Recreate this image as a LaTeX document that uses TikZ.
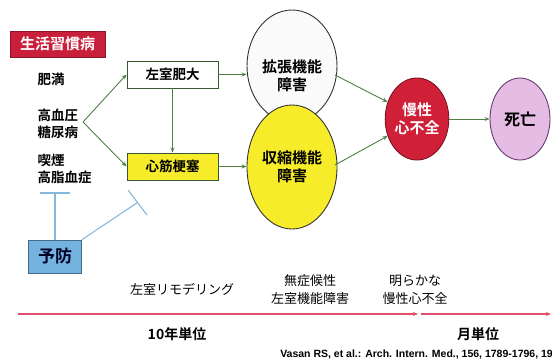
\documentclass[tikz,border=0pt]{standalone}
\usepackage{fontspec}
\setmainfont{Liberation Sans}
\newfontfamily\jp{Noto Sans CJK JP}[BoldFont={Noto Sans CJK JP Bold}]
\usetikzlibrary{arrows.meta,shapes.geometric}
\definecolor{gline}{HTML}{4F7F45}
\definecolor{redbox}{HTML}{C8203A}
\definecolor{yel}{HTML}{F6EC2A}
\definecolor{pur}{HTML}{E4BCE4}
\definecolor{purb}{HTML}{6A3A70}
\definecolor{blu}{HTML}{74B2E0}
\definecolor{blul}{HTML}{86B8DC}
\definecolor{tline}{HTML}{E0506A}
\definecolor{heart}{HTML}{D02038}
\tikzset{
  conn/.style={gline, line width=0.9pt, -{Stealth[length=5pt,width=4pt]}},
  rectbox/.style={draw=gline!70!black, line width=0.9pt, minimum width=91pt, minimum height=27pt, font=\jp\bfseries\fontsize{13.5}{16}\selectfont},
  oval/.style={ellipse, draw=black!80, line width=0.9pt, align=center, font=\jp\bfseries\fontsize{15}{18}\selectfont, inner sep=0pt},
  ovtext/.style={font=\jp\bfseries\fontsize{15}{18}\selectfont, align=center},
  lbl/.style={font=\jp\bfseries\fontsize{13.5}{17}\selectfont, align=left, anchor=west},
  btm/.style={font=\jp\fontsize{13}{18}\selectfont, align=center},
  prev/.style={blul, line width=1.1pt},
  tl/.style={tline, line width=1.3pt, -{Stealth[length=5pt,width=4pt]}}
}
\begin{document}
\begin{tikzpicture}[x=1pt,y=-1pt]
\useasboundingbox (0,0) rectangle (552,362);
% header
\node[fill=redbox, draw=redbox!70!black, minimum width=95pt, minimum height=26pt, text=white, font=\jp\bfseries\fontsize{15}{17}\selectfont, inner sep=0pt] (lsd) at (57.5,44) {生活習慣病};
\node[lbl] (himan) at (34,79) {肥満};
\node[lbl] (kou) at (34,124) {高血圧\\糖尿病};
\node[lbl] (kitsu) at (34,169) {喫煙\\高脂血症};
\coordinate (fork) at (83,122);
% boxes
\node[rectbox, fill=white] (lvh) at (172.5,74.5) {左室肥大};
\node[rectbox, fill=yel] (mi) at (172.5,166.5) {心筋梗塞};
% ellipses
\node[oval, fill=white!96!gray, minimum width=90pt, minimum height=112pt] (dia) at (292,66) {};
\node[oval, fill=yel, minimum width=90pt, minimum height=124pt] (sys) at (292,167) {};
\node[ovtext] (diat) at (292,76) {拡張機能\\障害};
\node[ovtext] (syst) at (292,167) {収縮機能\\障害};
\node[oval, fill=heart, draw=heart!60!black, minimum width=60pt, minimum height=82pt, text=white] (chf) at (417,119) {慢性\\心不全};
\node[oval, fill=pur, draw=purb, minimum width=60pt, minimum height=82pt, font=\jp\bfseries\fontsize{16}{18}\selectfont] (death) at (520,119) {死亡};
% connectors
\draw[conn] (fork) -- (lvh.west);
\draw[conn] (fork) -- (mi.west);
\draw[conn] (lvh.south) -- (mi.north);
\draw[conn] (lvh.east) -- (dia.west |- lvh.east);
\draw[conn] (mi.east) -- (sys.west |- mi.east);
\coordinate (d1) at (335,75);
\coordinate (s1) at (335,165);
\draw[conn] (d1) -- (chf.150);
\draw[conn] (s1) -- (chf.210);
\draw[conn] (chf.east) -- (death.west);
% prevention
\node[draw=blu!60!black, fill=blu, minimum width=53pt, minimum height=33pt, font=\jp\bfseries\fontsize{17}{19}\selectfont, text=black!85!blue, inner sep=0pt] (prev) at (55,256.5) {予防};
\coordinate (p1) at (55,193);
\coordinate (p2) at (137.5,202.5);
\draw[prev] (prev.north) -- (p1);
\draw[prev] (40,193) -- (70,193);
\draw[prev] (prev.north east) -- (p2);
\draw[prev] (128,190) -- (147,215);
% bottom
\node[btm] (remod) at (182,289) {左室リモデリング};
\node[btm] (asym) at (310,290) {無症候性\\左室機能障害};
\node[btm] (overt) at (415,290) {明らかな\\慢性心不全};
\coordinate (t0) at (18,314);
\coordinate (t1) at (418,314);
\coordinate (t2) at (421,314);
\coordinate (t3) at (551,314);
\draw[tl] (t0) -- (t1);
\draw[tl] (t2) -- (t3);
\node[font=\jp\bfseries\fontsize{14}{16}\selectfont] (ten) at (177,334) {10年単位};
\node[font=\jp\bfseries\fontsize{14}{16}\selectfont] (mon) at (478,334) {月単位};
\node[font=\bfseries\fontsize{10.5}{12}\selectfont, anchor=east, inner sep=0pt] (cite) at (553,355) {Vasan RS, et al.: Arch. Intern. Med., 156, 1789-1796, 19};
\end{tikzpicture}
\end{document}
